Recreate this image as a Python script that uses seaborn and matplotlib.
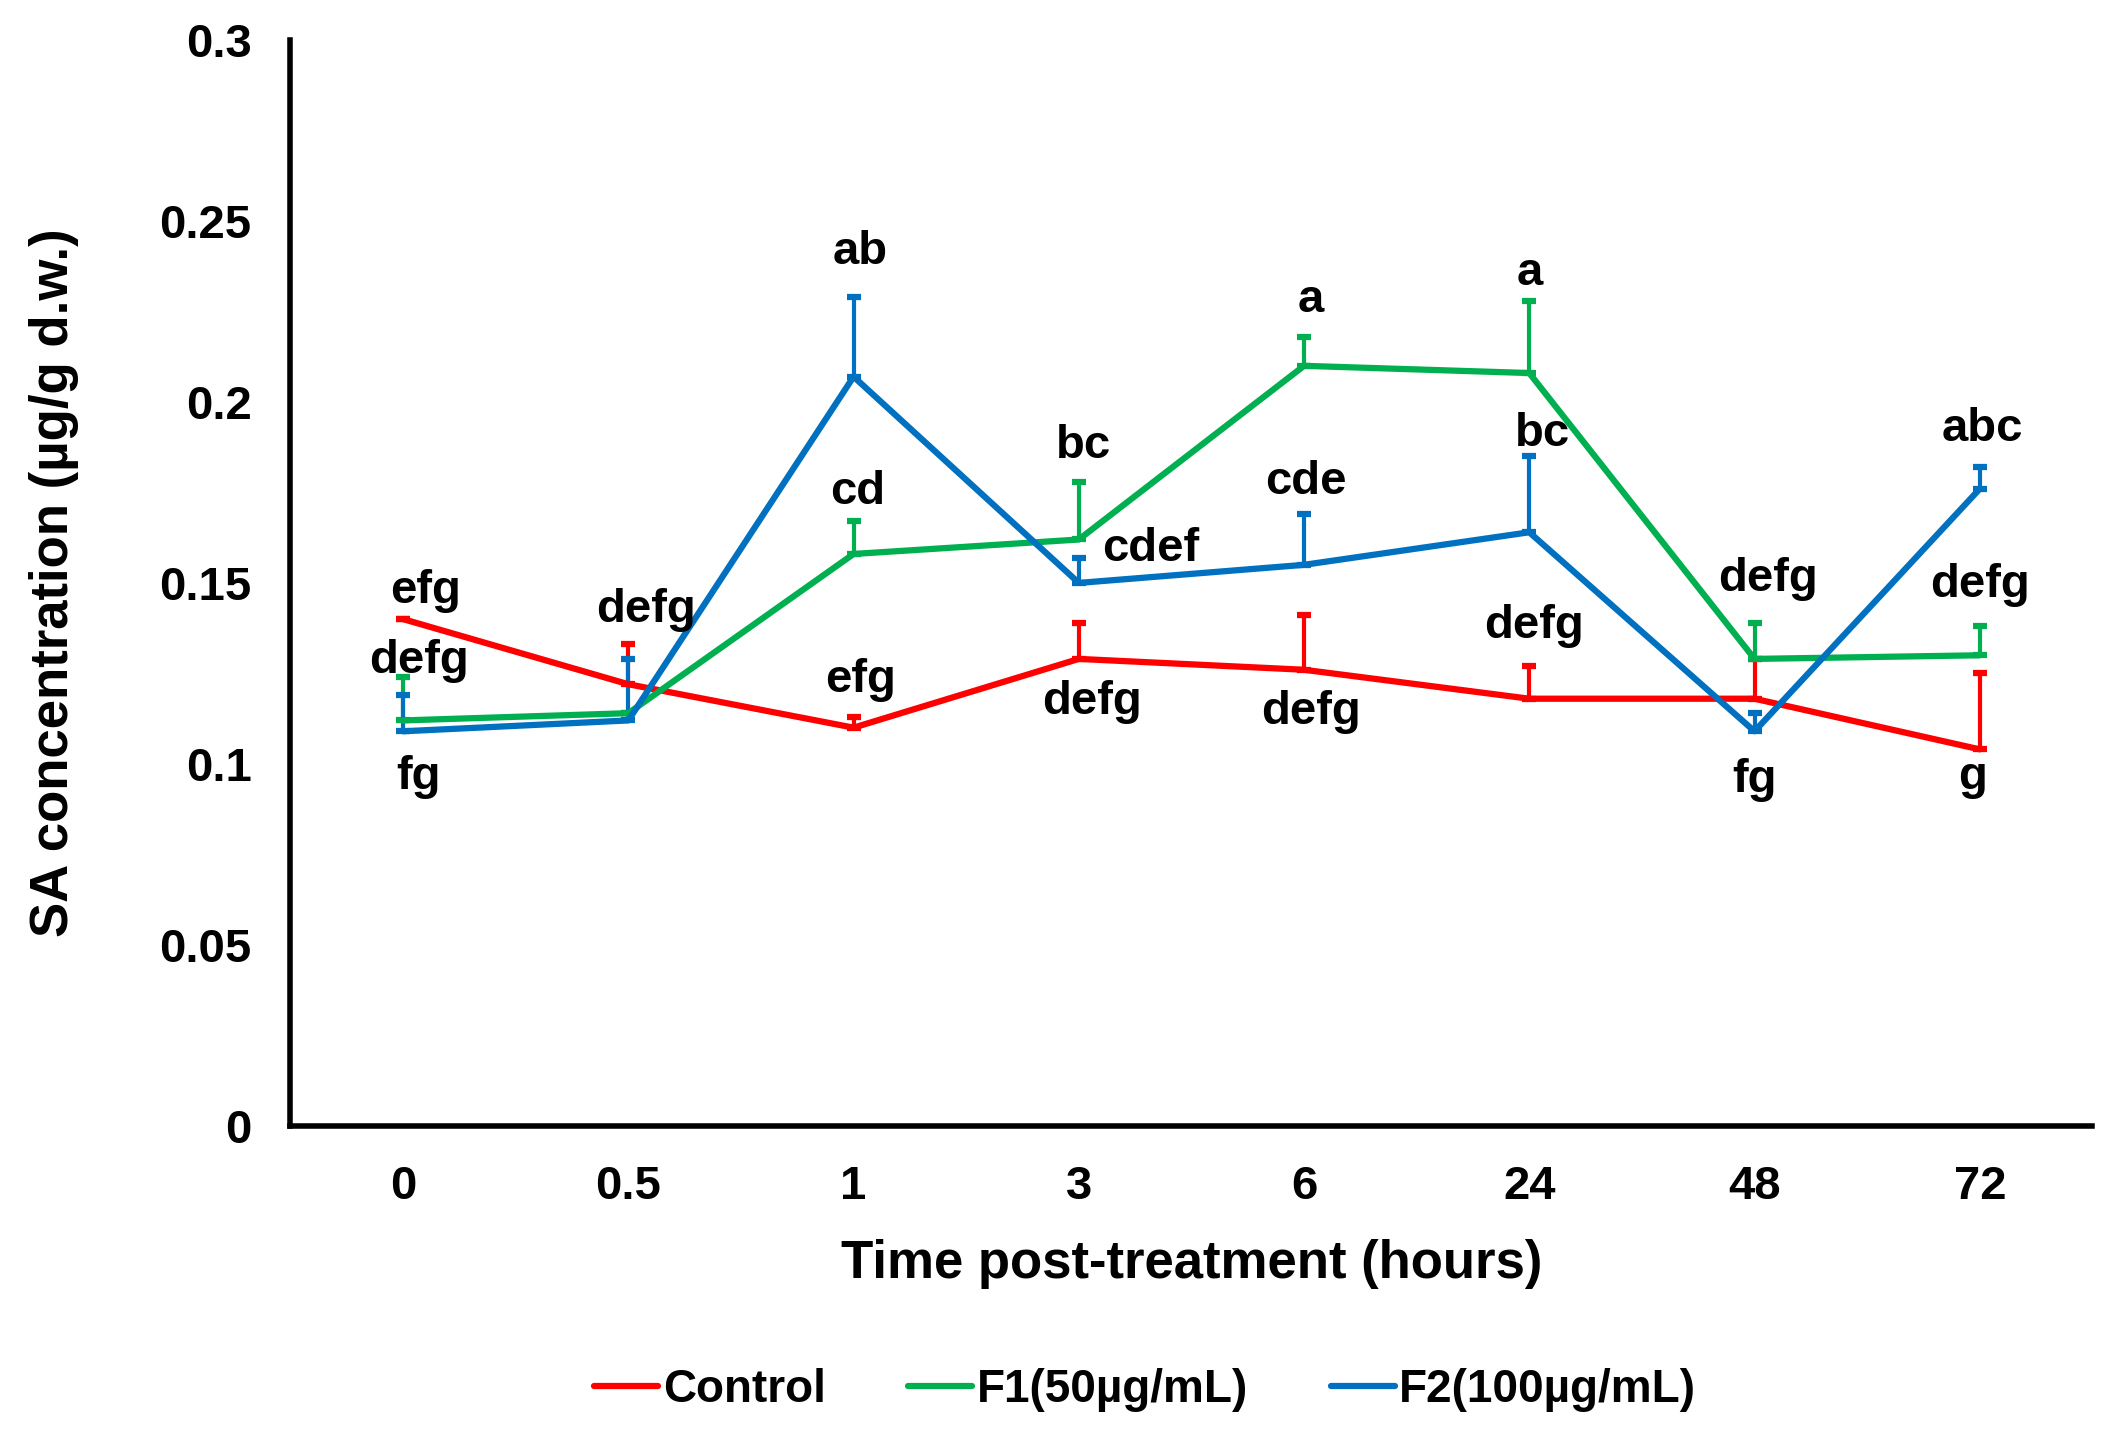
import numpy as np
import pandas as pd
import matplotlib
matplotlib.use("Agg")
import matplotlib.pyplot as plt
import seaborn as sns

# data
TIMES = ['0', '0.5', '1', '3', '6', '24', '48', '72']
SERIES = ['Control', 'F1(50µg/mL)', 'F2(100µg/mL)']
CONTROL     = [0.140, 0.122, 0.110, 0.129, 0.126, 0.118, 0.118, 0.104]
CONTROL_ERR = [0.000, 0.011, 0.003, 0.010, 0.015, 0.009, 0.011, 0.021]
F1          = [0.112, 0.114, 0.158, 0.162, 0.210, 0.208, 0.129, 0.130]
F1_ERR      = [0.012, 0.000, 0.009, 0.016, 0.008, 0.020, 0.010, 0.008]
F2          = [0.109, 0.112, 0.207, 0.150, 0.155, 0.164, 0.109, 0.176]
F2_ERR      = [0.010, 0.017, 0.022, 0.007, 0.014, 0.021, 0.005, 0.006]
YTICKS = [0, 0.05, 0.1, 0.15, 0.2, 0.25, 0.3]
YTICK_LABELS = ['0', '0.05', '0.1', '0.15', '0.2', '0.25', '0.3']

# significance letters: text, time index, label height (data units)
LETTERS   = ['efg', 'defg', 'fg', 'defg', 'ab', 'cd', 'efg', 'bc', 'cdef', 'defg',
             'a', 'cde', 'defg', 'a', 'bc', 'defg', 'defg', 'fg', 'abc', 'defg', 'g']
LETTER_X  = [0, 0, 0, 1, 2, 2, 2, 3, 3, 3, 4, 4, 4, 5, 5, 5, 6, 6, 7, 7, 7]
LETTER_Y  = [0.1478, 0.1285, 0.0963, 0.1426, 0.2415, 0.1752, 0.1233, 0.1878, 0.1593, 0.1170,
             0.2281, 0.1778, 0.1144, 0.2356, 0.1911, 0.1381, 0.1511, 0.0956, 0.1926, 0.1493, 0.0963]
LETTER_DX = [0.10, 0.07, 0.07, 0.08, 0.03, 0.02, 0.03, 0.02, 0.32, 0.06,
             0.03, 0.01, 0.03, 0.00, 0.06, 0.02, 0.06, 0.00, 0.01, 0.00, -0.03]

COLORS = {'Control': '#FF0000', 'F1(50µg/mL)': '#00B050', 'F2(100µg/mL)': '#0070C0'}

sns.set_style('white')
plt.rcParams['font.family'] = ['Liberation Sans', 'DejaVu Sans']
plt.rcParams['font.weight'] = 'bold'
plt.rcParams['text.color'] = 'black'
plt.rcParams['axes.labelcolor'] = 'black'

pos = np.arange(len(TIMES))
means = {'Control': CONTROL, 'F1(50µg/mL)': F1, 'F2(100µg/mL)': F2}
errs = {'Control': CONTROL_ERR, 'F1(50µg/mL)': F1_ERR, 'F2(100µg/mL)': F2_ERR}
df = pd.DataFrame({
    'pos': np.tile(pos, 3),
    'value': CONTROL + F1 + F2,
    'series': np.repeat(SERIES, len(TIMES)),
})

fig = plt.figure(figsize=(21.05, 14.34), dpi=100)
ax = fig.add_axes([0.138, 0.215, 0.856, 0.757])

sns.lineplot(data=df, x='pos', y='value', hue='series', hue_order=SERIES,
             palette=COLORS, linewidth=4.5, ax=ax, legend=False, sort=False)
for s in SERIES:
    e = np.array(errs[s])
    ax.errorbar(pos, means[s], yerr=[np.zeros_like(e), e], fmt='none',
                ecolor=COLORS[s], elinewidth=3, capsize=5, capthick=4.5, zorder=1)

for t, i, y, dx in zip(LETTERS, LETTER_X, LETTER_Y, LETTER_DX):
    ax.text(i + dx, y, t, ha='center', va='center', fontsize=34, fontweight='bold',
            color='black')

ax.set_xlim(-0.5, 7.5)
ax.set_ylim(0, 0.3)
ax.set_xticks(pos)
ax.set_xticklabels(TIMES)
ax.set_yticks(YTICKS)
ax.set_yticklabels(YTICK_LABELS)
ax.tick_params(axis='both', length=0, labelsize=34, colors='black')
ax.tick_params(axis='x', pad=28)
ax.tick_params(axis='y', pad=28)
for lab in ax.get_xticklabels() + ax.get_yticklabels():
    lab.set_fontweight('bold')

sns.despine(ax=ax)
for side in ['left', 'bottom']:
    ax.spines[side].set_linewidth(4)
    ax.spines[side].set_color('black')

ax.set_xlabel('Time post-treatment (hours)', fontsize=38, fontweight='bold', labelpad=22)
ax.set_ylabel('SA concentration (µg/g d.w.)', fontsize=38, fontweight='bold', labelpad=58)

handles = [plt.Line2D([], [], color=COLORS[s], linewidth=4.5) for s in SERIES]
fig.legend(handles, SERIES, loc='center', bbox_to_anchor=(0.544, 0.031), ncol=3,
           frameon=False, handlelength=1.4, handletextpad=0.1,
           columnspacing=1.8, prop={'weight': 'bold', 'size': 33})

fig.savefig('out.png', dpi=100)
